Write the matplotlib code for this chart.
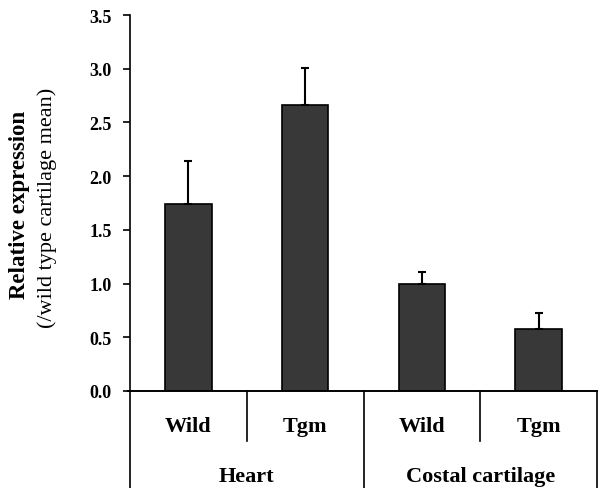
import matplotlib
matplotlib.use("Agg")
from matplotlib import pyplot as plt
import matplotlib.transforms as mtransforms

groups = ["Heart", "Costal cartilage"]
labels = ["Wild", "Tgm", "Wild", "Tgm"]
means = [1.74, 2.66, 1.00, 0.58]
errs = [0.40, 0.35, 0.11, 0.15]
yticks = [0.0, 0.5, 1.0, 1.5, 2.0, 2.5, 3.0, 3.5]

plt.rcParams['font.family'] = 'Liberation Serif'

fig = plt.figure(figsize=(6, 4.89), dpi=100)
ax = fig.add_axes([130/600, 1-392/489, 467/600, 376/489])

x = list(range(len(means)))
ax.bar(x, means, width=0.4, color='#383838', edgecolor='black', linewidth=1.2, zorder=2)
ax.errorbar(x, means, yerr=[[0]*len(errs), errs], fmt='none', ecolor='black',
            elinewidth=1.5, capsize=3, capthick=1.5, zorder=3)

ax.set_xlim(-0.5, 3.5)
ax.set_ylim(0, 3.5)
ax.set_yticks(yticks)
ax.set_yticklabels(["%.1f" % v for v in yticks], fontsize=13, fontweight='bold')
ax.tick_params(axis='y', direction='out', length=5, width=1.2, pad=8)
ax.set_xticks([0.5, 1.5, 2.5])
ax.set_xticklabels([])
ax.tick_params(axis='x', direction='out', length=0)
for s in ['top', 'right']:
    ax.spines[s].set_visible(False)
ax.spines['left'].set_linewidth(1.2)
ax.spines['bottom'].set_linewidth(1.2)
ax.spines['bottom'].set_bounds(-0.52, 3.5)

# category table below the axis
tr = mtransforms.blended_transform_factory(ax.transData, ax.transAxes)
short = -(442-392)/376
full = -(500-392)/376
for xv in [0.5, 2.5]:
    ax.plot([xv, xv], [0, short], color='black', lw=1.2, transform=tr, clip_on=False)
for xv in [-0.5, 1.5, 3.5]:
    ax.plot([xv, xv], [0, full], color='black', lw=1.2, transform=tr, clip_on=False)
ax.plot([-0.52, 3.5], [0, 0], color='black', lw=1.2, transform=tr, clip_on=False)
for xv, lab in zip(x, labels):
    ax.text(xv, -(427-392)/376, lab, transform=tr, ha='center', va='center',
            fontsize=16, fontweight='bold')
for gi, g in enumerate(groups):
    ax.text(0.5 + 2*gi, -(477-392)/376, g, transform=tr, ha='center', va='center',
            fontsize=16, fontweight='bold')

fig.text(20/600, 1-205/489, "Relative expression", rotation=90, ha='center', va='center',
         fontsize=16.5, fontweight='bold')
fig.text(47/600, 1-208/489, "(/wild type cartilage mean)", rotation=90, ha='center', va='center',
         fontsize=16)

fig.savefig("out.png", dpi=100)
